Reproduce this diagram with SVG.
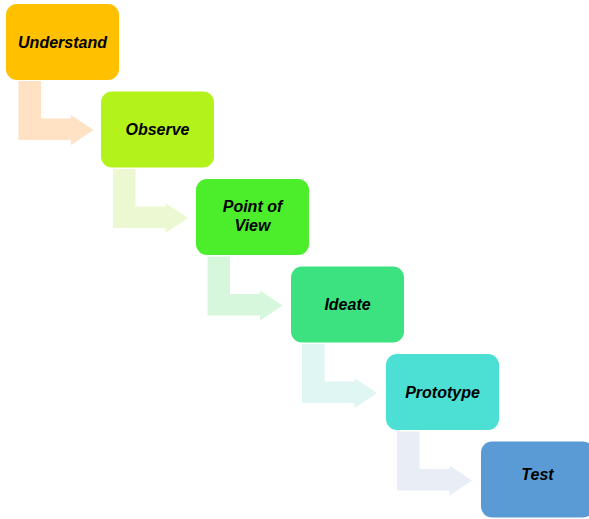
<svg xmlns="http://www.w3.org/2000/svg" width="589" height="519" viewBox="0 0 589 519">
  <style>
    .box { stroke: none; }
    .lbl { font-family: "Liberation Sans", Arial, sans-serif; font-size: 16px; font-weight: bold; font-style: italic; fill: #000000; text-anchor: middle; }
  </style>
  <defs>
    <path id="bent" d="M0,0 H22.5 V37.5 H52.5 V34 L75,49 L52.5,64 V59 H0 Z"/>
  </defs>
  <rect width="589" height="519" fill="#ffffff"/>
  <g id="connectors">
    <use href="#bent" transform="translate(18.5,81)" fill="#FEE2C3"/>
    <use href="#bent" transform="translate(113,169)" fill="#ECF8D2"/>
    <use href="#bent" transform="translate(207.5,256.5)" fill="#D7F7DC"/>
    <use href="#bent" transform="translate(302,344)" fill="#DFF6F2"/>
    <use href="#bent" transform="translate(397,431.5)" fill="#E8EDF6"/>
  </g>
  <g id="understand">
    <rect class="box" x="6" y="4" width="113" height="76" rx="11" fill="#FFC000"/>
    <text class="lbl" x="62.5" y="47.5">Understand</text>
  </g>
  <g id="observe">
    <rect class="box" x="101" y="91.5" width="113" height="76" rx="11" fill="#B4F21B"/>
    <text class="lbl" x="157.5" y="135">Observe</text>
  </g>
  <g id="point-of-view">
    <rect class="box" x="196" y="179" width="113" height="76" rx="11" fill="#4CEE2B"/>
    <text class="lbl" x="252.5" y="212">Point of</text>
    <text class="lbl" x="252.5" y="230.5">View</text>
  </g>
  <g id="ideate">
    <rect class="box" x="291" y="266.5" width="113" height="76" rx="11" fill="#3DE280"/>
    <text class="lbl" x="347.5" y="310">Ideate</text>
  </g>
  <g id="prototype">
    <rect class="box" x="386" y="354" width="113" height="76" rx="11" fill="#4CDFD3"/>
    <text class="lbl" x="442.5" y="397.5">Prototype</text>
  </g>
  <g id="test">
    <rect class="box" x="481" y="441.5" width="113" height="76" rx="11" fill="#5B9BD5"/>
    <text class="lbl" x="537.5" y="480">Test</text>
  </g>
</svg>
